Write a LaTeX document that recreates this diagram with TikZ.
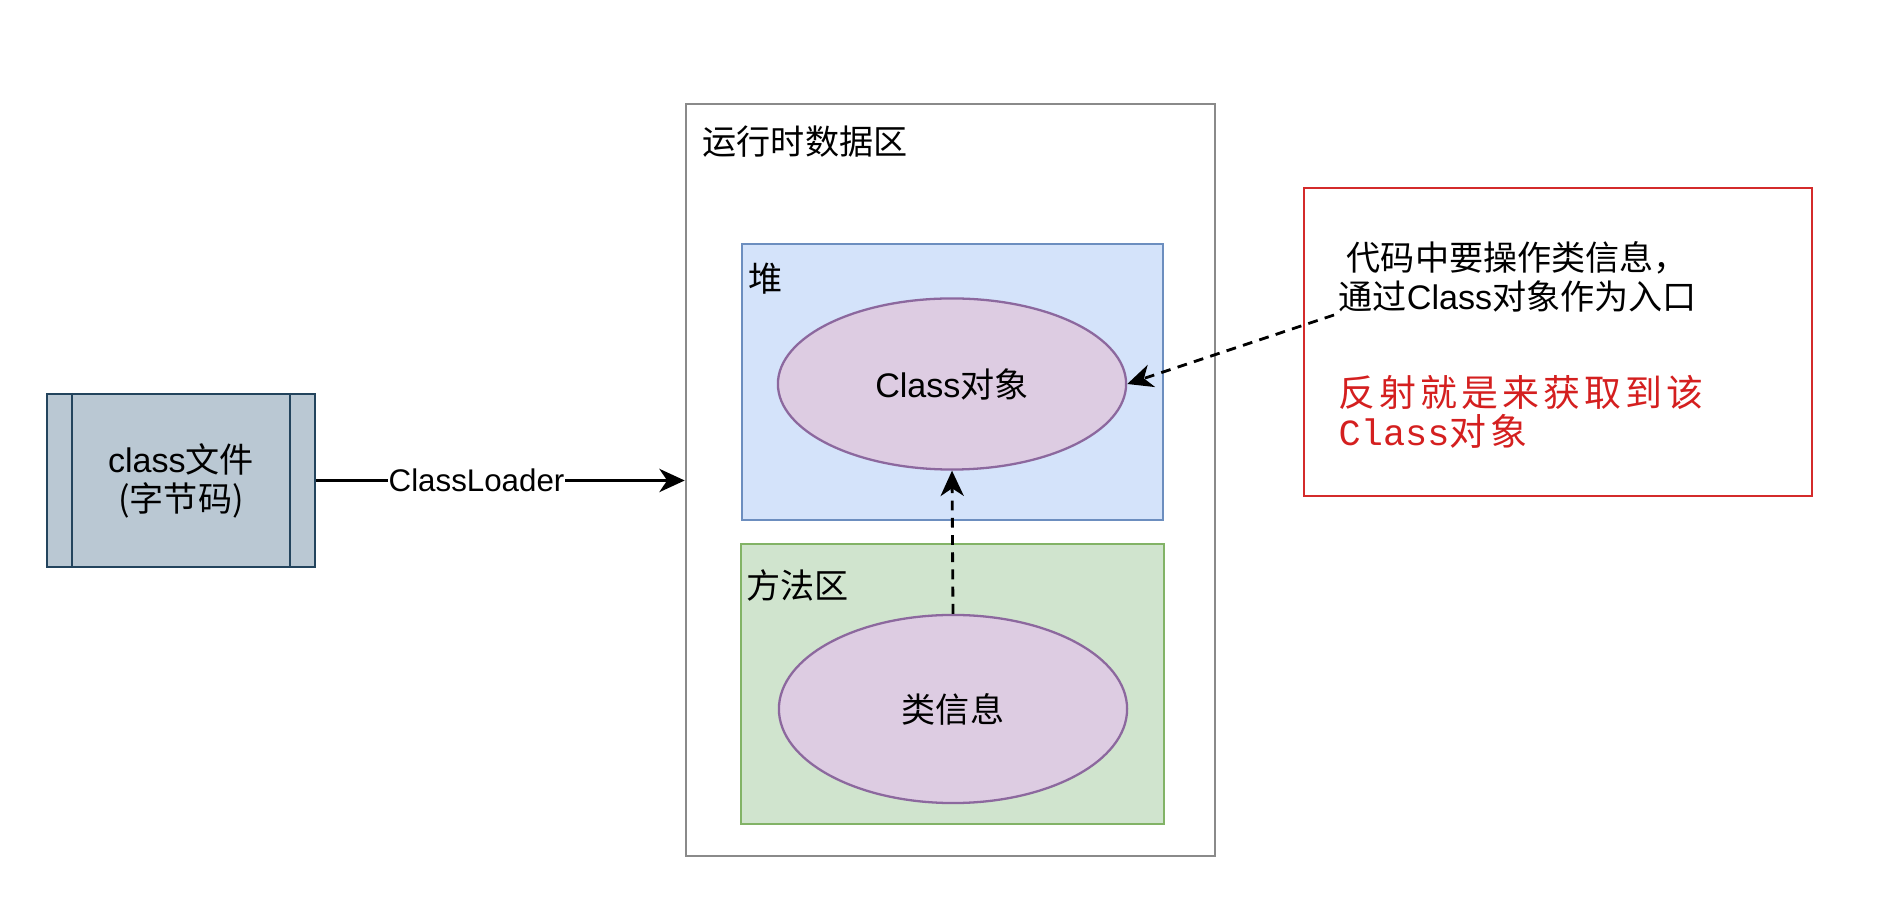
\documentclass[tikz,border=0pt]{standalone}
\usepackage{fontspec}
\setmainfont{Liberation Sans}
\newfontfamily\cjk{Noto Sans CJK SC}
\newfontfamily\cjksp{Noto Sans CJK SC}[LetterSpace=11]
\newfontfamily\monofnt{Liberation Mono}
\usetikzlibrary{arrows.meta,shapes.geometric}
\definecolor{clsfill}{HTML}{BAC8D3}
\definecolor{clsline}{HTML}{23445D}
\definecolor{heapfill}{HTML}{D4E3FA}
\definecolor{heapline}{HTML}{6C8EBF}
\definecolor{methfill}{HTML}{D0E4CE}
\definecolor{methline}{HTML}{82B366}
\definecolor{ellfill}{HTML}{DDCCE2}
\definecolor{ellline}{HTML}{8C689E}
\definecolor{redline}{HTML}{D42B2B}
\definecolor{redtext}{HTML}{D41F1F}
\definecolor{outerline}{HTML}{8A8A8A}
\begin{document}
\begin{tikzpicture}[x=0.01cm,y=-0.01cm,
  mainfont/.style={font=\fontsize{9.7}{11.1}\selectfont},
  box/.style={draw, line width=0.65pt, inner sep=0pt},
  ell/.style={ellipse, draw=ellline, fill=ellfill, line width=0.65pt, inner sep=0pt, mainfont},
  lbl/.style={inner sep=0pt, anchor=west, mainfont, align=left},
  arr/.style={line width=0.8pt, -{Stealth[length=7.2pt,width=6.6pt,inset=2.2pt]}},
  darr/.style={arr, dash pattern=on 2.8pt off 2.1pt}
]
\useasboundingbox (0,0) rectangle (1888,904);

% outer runtime data area
\node[box, draw=outerline, minimum width=5.29cm, minimum height=7.52cm] (outer) at (950.5,480) {};
\node[lbl] (outerlbl) at (702,142) {\cjk 运行时数据区};

% heap
\node[box, draw=heapline, fill=heapfill, minimum width=4.21cm, minimum height=2.76cm] (heap) at (952.5,382) {};
\node[lbl] (heaplbl) at (748,279) {\cjk 堆};

% method area
\node[box, draw=methline, fill=methfill, minimum width=4.23cm, minimum height=2.80cm] (meth) at (952.5,684) {};
\node[lbl] (methlbl) at (746,585) {\cjk 方法区};

% ellipses
\node[ell, minimum width=3.48cm, minimum height=1.71cm] (obj) at (952,384) {Class{\cjk 对象}};
\node[ell, minimum width=3.48cm, minimum height=1.88cm] (info) at (953,709) {\cjk 类信息};

% class file
\node[box, draw=clsline, fill=clsfill, minimum width=2.68cm, minimum height=1.73cm, mainfont, align=center] (cls) at (181,480.5)
  {class{\cjk 文件}\\{\cjk (字节码)}};
\draw[clsline, line width=0.65pt] ([xshift=0.26cm]cls.north west) -- ([xshift=0.26cm]cls.south west);
\draw[clsline, line width=0.65pt] ([xshift=-0.26cm]cls.north east) -- ([xshift=-0.26cm]cls.south east);

% ClassLoader arrow
\draw[arr] (cls.east) -- node[pos=0.435, fill=white, inner sep=0.2pt, font=\fontsize{8.9}{10}\selectfont] (cl) {ClassLoader} (cls.east -| outer.west);

% red note box
\node[box, draw=redline, minimum width=5.08cm, minimum height=3.08cm] (note) at (1558,342) {};
\node[lbl] (notetxt) at (1338,277) {\hspace{2.3pt}{\cjk 代码中要操作类信息，}\\{\cjk 通过}Class{\cjk 对象作为入口}};
\node[lbl, text=redtext, font=\fontsize{10.5}{11.1}\selectfont] (redtxt) at (1338,411.5) {{\cjksp 反射就是来获取到该}\\{\monofnt Class}{\cjksp 对象}};

% dashed arrows
\coordinate (ds) at (1334,315);
\draw[darr] (ds) -- (obj.east);
\draw[darr] (info.north) -- (obj.south);
\end{tikzpicture}
\end{document}
